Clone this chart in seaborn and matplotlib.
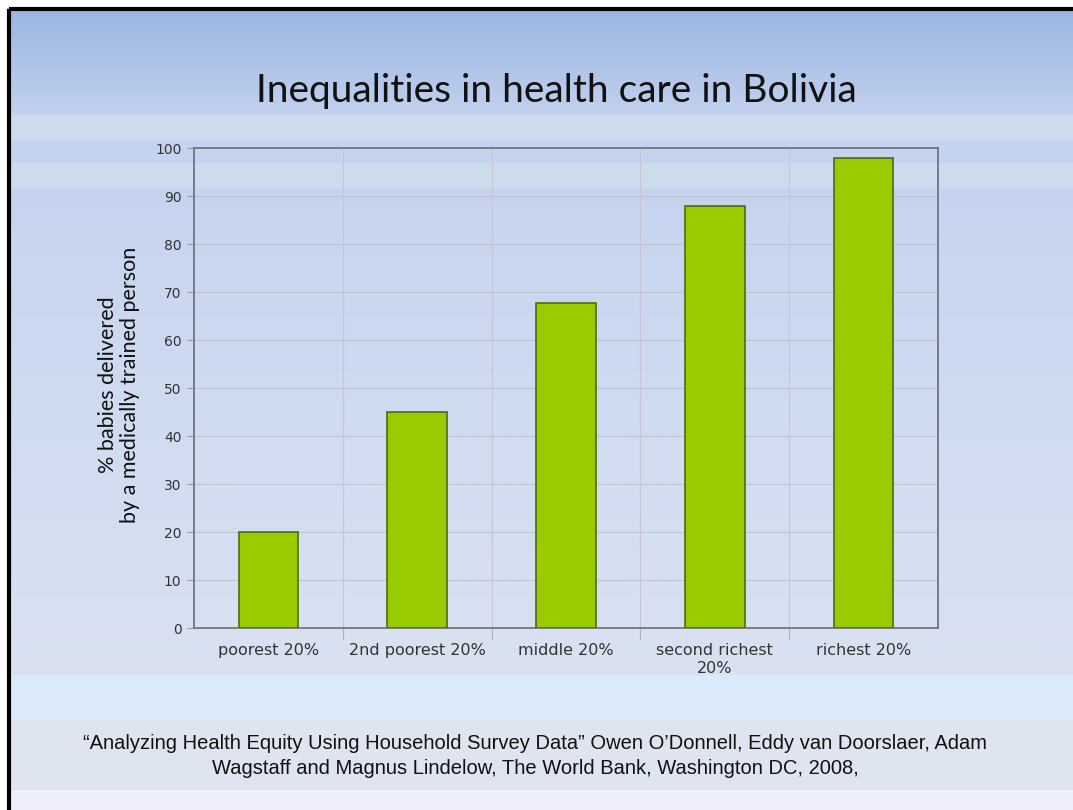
import numpy as np
import pandas as pd
import matplotlib
matplotlib.use("Agg")
import matplotlib.pyplot as plt
from matplotlib.patches import Rectangle
from matplotlib.colors import to_rgb
import seaborn as sns

# Share of births attended by a medically trained person, by wealth quintile
categories = ["poorest 20%", "2nd poorest 20%", "middle 20%", "second richest\n20%", "richest 20%"]
values = [20, 45, 67.7, 88, 98]
y_ticks = list(range(0, 101, 10))

title = "Inequalities in health care in Bolivia"
ylabel = "% babies delivered\nby a medically trained person"
source = ("\u201cAnalyzing Health Equity Using Household Survey Data\u201d Owen O\u2019Donnell, Eddy van Doorslaer, Adam\n"
          "Wagstaff and Magnus Lindelow, The World Bank, Washington DC, 2008,")

sns.set_theme(style="white")
plt.rcParams["font.family"] = ["DejaVu Sans"]

W, H = 1073, 810
fig = plt.figure(figsize=(W / 100, H / 100), dpi=100)

# Slide background: vertical gradient with horizontal bands
bg = fig.add_axes([0, 0, 1, 1], zorder=-2)
bg.set_xlim(0, W)
bg.set_ylim(H, 0)
bg.axis("off")
stops_y = [0, 10, 115, 400, 675]
stops_c = ["#ffffff", "#9cb6e2", "#c2d1ee", "#cfdbf1", "#dae2f1"]
rows = np.arange(H)
rgb = np.array([to_rgb(c) for c in stops_c])
grad = np.stack([np.interp(rows, stops_y, rgb[:, k]) for k in range(3)], axis=1)
bg.imshow(grad[:, None, :], aspect="auto", extent=[0, W, H, 0], interpolation="bilinear")
bands = [(115, 140, "#cddcec"), (140, 163, "#c4d3ee"), (163, 188, "#cddcec"),
         (675, 720, "#dbeafb"), (720, 790, "#dfe4f1"), (790, 810, "#efeefc")]
for y0, y1, c in bands:
    bg.add_patch(Rectangle((0, y0), W, y1 - y0, color=c, lw=0, zorder=1))
bg.add_patch(Rectangle((0, 0), W, 8, color="white", lw=0, zorder=1))
bg.add_patch(Rectangle((0, 0), 7, H, color="white", lw=0, zorder=1))
bg.add_patch(Rectangle((8.5, 8.5), W + 20, H + 20, fill=False, ec="black", lw=3, zorder=2))

# Chart axes
ax = fig.add_axes([194 / W, 1 - 628 / H, (938 - 194) / W, (628 - 148) / H])
ax.set_facecolor("none")
df = pd.DataFrame({"group": categories, "pct": values})
sns.barplot(data=df, x="group", y="pct", color="#99cc00", saturation=1,
            edgecolor="#4f6a10", linewidth=1.2, width=0.4, ax=ax, zorder=3)

ax.set_ylim(0, 100)
ax.set_xlim(-0.5, len(categories) - 0.5)
ax.set_yticks(y_ticks)
ax.set_yticklabels([str(t) for t in y_ticks], fontsize=10, color="#333333")
ax.tick_params(axis="y", length=5, width=0.8, color="#999999", pad=4, left=True)
ax.tick_params(axis="x", length=0, pad=11, labelsize=11.5, labelcolor="#333333")

# Gridlines: horizontal at each tick, vertical at category boundaries
for t in y_ticks[1:]:
    ax.axhline(t, color="#bcc3d0", lw=0.7, zorder=1)
for b in np.arange(0.5, len(categories) - 0.5, 1.0):
    ax.axvline(b, color="#c8c4d2", lw=0.8, zorder=1)
    ax.plot([b, b], [0, -2.2], color="#b0b0b8", lw=0.8, clip_on=False, zorder=1)

for side in ["left", "right", "top", "bottom"]:
    ax.spines[side].set_visible(True)
    ax.spines[side].set_color("#6e7480")
    ax.spines[side].set_linewidth(1.3)
ax.spines["bottom"].set_color("#777777")

ax.set_xlabel("")
ax.set_ylabel("")

fig.text(556 / W, 1 - 91 / H, title, ha="center", va="center",
         fontsize=28, family=["Lato", "DejaVu Sans"], color="#111111")
fig.text(119 / W, 1 - 385 / H, ylabel, ha="center", va="center", rotation=90,
         fontsize=15.5, family=["Lato", "DejaVu Sans"], color="#111111", linespacing=1.1)
fig.text(535 / W, 1 - 756 / H, source, ha="center", va="center", fontsize=14.5,
         family=["Liberation Sans", "DejaVu Sans"], color="#111111", linespacing=1.4)

fig.savefig("out.png", dpi=100)
